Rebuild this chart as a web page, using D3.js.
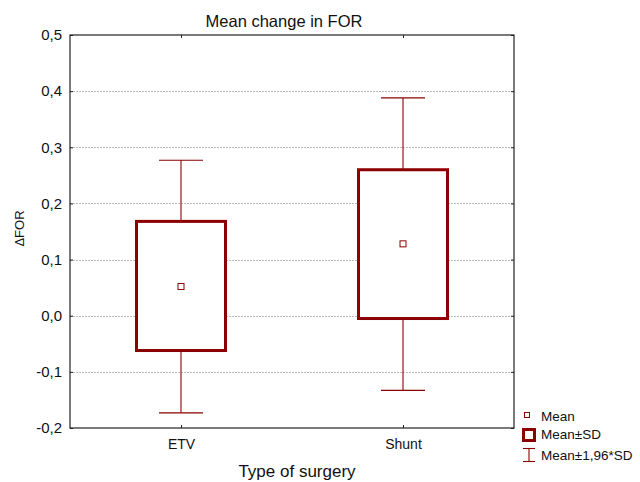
<!DOCTYPE html>
<html>
<head>
<meta charset="utf-8">
<script src="https://cdn.jsdelivr.net/npm/d3@7"></script>
<style>
  body { margin: 0; background: #fff; }
  svg { font-family: "Liberation Sans", Arial, sans-serif; }
</style>
</head>
<body>
<div id="view"></div>
<script>
// values
const categories = ["ETV", "Shunt"];
const means = [0.052, 0.128];
const sdLow = [-0.062, -0.005];
const sdHigh = [0.168, 0.260];
const ciLow = [-0.173, -0.133];
const ciHigh = [0.277, 0.388];
const yTicks = [-0.2, -0.1, 0.0, 0.1, 0.2, 0.3, 0.4, 0.5];

const width = 640, height = 482;
const margin = { top: 35, right: 126, bottom: 54, left: 70 };
const red = "#8b0000";

const svg = d3.select("#view").append("svg")
  .attr("width", width)
  .attr("height", height);

const x = d3.scalePoint()
  .domain(categories)
  .range([margin.left, width - margin.right])
  .padding(0.5);

const y = d3.scaleLinear()
  .domain([-0.2, 0.5])
  .range([height - margin.bottom, margin.top]);

const fmt = d => d3.format(".1f")(d).replace(".", ",").replace("−", "-");

// grid
svg.append("g")
  .selectAll("line")
  .data(yTicks.slice(1, -1))
  .join("line")
  .attr("x1", margin.left)
  .attr("x2", width - margin.right)
  .attr("y1", d => Math.round(y(d)) + 0.5)
  .attr("y2", d => Math.round(y(d)) + 0.5)
  .attr("stroke", "#bbb")
  .attr("stroke-dasharray", "2,1");

// axes with inward ticks
const axLeft = svg.append("g")
  .attr("transform", `translate(${margin.left},0)`)
  .call(d3.axisLeft(y).tickValues(yTicks).tickFormat(fmt).tickSize(-3).tickPadding(8));
const axRight = svg.append("g")
  .attr("transform", `translate(${width - margin.right},0)`)
  .call(d3.axisRight(y).tickValues(yTicks).tickFormat("").tickSize(-3));
const axBottom = svg.append("g")
  .attr("transform", `translate(0,${height - margin.bottom})`)
  .call(d3.axisBottom(x).tickSize(-3).tickPadding(11));
const axTop = svg.append("g")
  .attr("transform", `translate(0,${margin.top})`)
  .call(d3.axisTop(x).tickFormat("").tickSize(-3));

[axLeft, axRight, axBottom, axTop].forEach(g => {
  g.select(".domain").remove();
  g.selectAll(".tick line").attr("stroke", "#222");
  g.selectAll("text").attr("fill", "#111");
});
axLeft.selectAll("text").style("font-size", "15px");
axBottom.selectAll("text").style("font-size", "14px");

// frame
svg.append("rect")
  .attr("x", margin.left)
  .attr("y", margin.top)
  .attr("width", width - margin.left - margin.right)
  .attr("height", height - margin.top - margin.bottom)
  .attr("fill", "none")
  .attr("stroke", "#222")
  .attr("stroke-width", 1.2);

const boxW = 89, capW = 44;
const idx = d3.range(categories.length);

// whiskers
const wh = svg.append("g").attr("stroke", red).attr("stroke-width", 1.1);
wh.selectAll(".stem")
  .data(idx)
  .join("line")
  .attr("class", "stem")
  .attr("x1", i => x(categories[i]))
  .attr("x2", i => x(categories[i]))
  .attr("y1", i => y(ciLow[i]))
  .attr("y2", i => y(ciHigh[i]));
wh.selectAll(".capHi")
  .data(idx)
  .join("line")
  .attr("class", "capHi")
  .attr("x1", i => x(categories[i]) - capW / 2)
  .attr("x2", i => x(categories[i]) + capW / 2)
  .attr("y1", i => y(ciHigh[i]))
  .attr("y2", i => y(ciHigh[i]));
wh.selectAll(".capLo")
  .data(idx)
  .join("line")
  .attr("class", "capLo")
  .attr("x1", i => x(categories[i]) - capW / 2)
  .attr("x2", i => x(categories[i]) + capW / 2)
  .attr("y1", i => y(ciLow[i]))
  .attr("y2", i => y(ciLow[i]));

// boxes
svg.append("g")
  .selectAll("rect")
  .data(idx)
  .join("rect")
  .attr("x", i => x(categories[i]) - boxW / 2)
  .attr("y", i => y(sdHigh[i]))
  .attr("width", boxW)
  .attr("height", i => y(sdLow[i]) - y(sdHigh[i]))
  .attr("fill", "#fff")
  .attr("stroke", red)
  .attr("stroke-width", 3);

// means
svg.append("g")
  .selectAll("rect")
  .data(idx)
  .join("rect")
  .attr("x", i => x(categories[i]) - 3)
  .attr("y", i => y(means[i]) - 3)
  .attr("width", 6)
  .attr("height", 6)
  .attr("fill", "#fff")
  .attr("stroke", red)
  .attr("stroke-width", 1);

// titles
svg.append("text")
  .attr("x", 284)
  .attr("y", 26.5)
  .attr("text-anchor", "middle")
  .style("font-size", "16.5px")
  .attr("fill", "#111")
  .text("Mean change in FOR");

svg.append("text")
  .attr("x", 297)
  .attr("y", 477)
  .attr("text-anchor", "middle")
  .style("font-size", "17px")
  .attr("fill", "#111")
  .text("Type of surgery");

svg.append("text")
  .attr("transform", "translate(24,228.5) rotate(-90)")
  .attr("text-anchor", "middle")
  .style("font-size", "13px")
  .attr("fill", "#111")
  .text("\u0394FOR");

// legend
const lg = svg.append("g").style("font-size", "13.5px").attr("fill", "#111");
lg.append("rect").attr("x", 524.5).attr("y", 412.5).attr("width", 5).attr("height", 5)
  .attr("fill", "#fff").attr("stroke", red);
lg.append("text").attr("x", 541).attr("y", 420.5).text("Mean");
lg.append("rect").attr("x", 523.5).attr("y", 429.5).attr("width", 11).attr("height", 11)
  .attr("fill", "#fff").attr("stroke", red).attr("stroke-width", 3);
lg.append("text").attr("x", 541).attr("y", 439).text("Mean\u00b1SD");
const wl = lg.append("g").attr("stroke", red).attr("stroke-width", 1.1);
wl.append("line").attr("x1", 523).attr("x2", 535).attr("y1", 448.5).attr("y2", 448.5);
wl.append("line").attr("x1", 523).attr("x2", 535).attr("y1", 461.5).attr("y2", 461.5);
wl.append("line").attr("x1", 529).attr("x2", 529).attr("y1", 448.5).attr("y2", 461.5);
lg.append("text").attr("x", 541).attr("y", 460).text("Mean\u00b11,96*SD");
</script>
</body>
</html>
